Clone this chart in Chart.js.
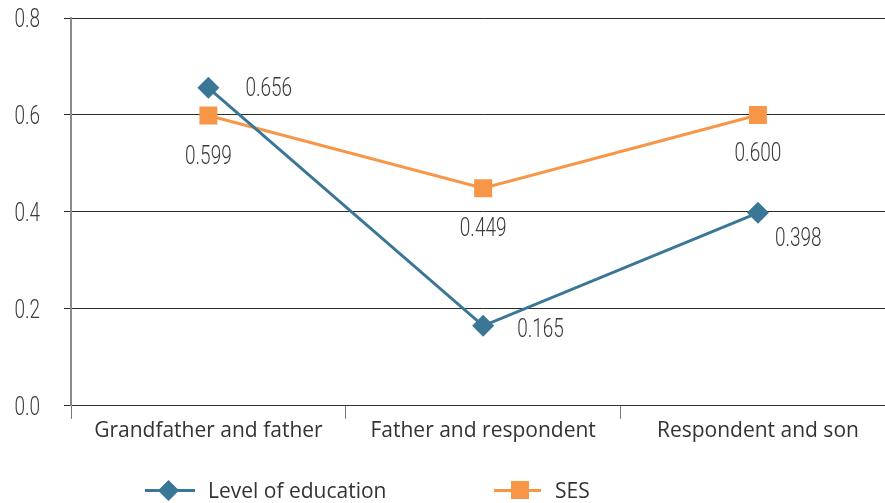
<!DOCTYPE html>
<html>
<head>
<meta charset="utf-8">
<script src="https://cdn.jsdelivr.net/npm/chart.js@4.4.1/dist/chart.umd.min.js"></script>
<style>
  html, body { margin: 0; padding: 0; background: #fff; overflow: hidden; width: 885px; height: 503px; }
  #wrap { position: relative; width: 908px; height: 503px; }
  #legend { position: absolute; left: 0; top: 0; width: 885px; height: 503px; pointer-events: none;
            font-family: "Open Sans", sans-serif; font-size: 21px; color: #333; }
  .item { position: absolute; top: 477px; height: 26px; display: flex; align-items: center; }
  .sym { position: relative; height: 24px; }
  .sym .ln { position: absolute; left: 0; right: 0; top: 10.5px; height: 3px; }
  .sym .mk { position: absolute; }
</style>
</head>
<body>
<div id="wrap">
  <canvas id="c" width="908" height="503"></canvas>
  <div id="legend"></div>
</div>
<script>
const categories = ["Grandfather and father", "Father and respondent", "Respondent and son"];
const educationValues = [0.656, 0.165, 0.398];
const sesValues = [0.599, 0.449, 0.600];
const yTicks = [0, 0.2, 0.4, 0.6, 0.8];
const seriesNames = ["Level of education", "SES"];

const BLUE = "#3A7797";
const ORANGE = "#F79646";
const NUM_FONT = 'Roboto, sans-serif';
const TXT_FONT = '"Open Sans", sans-serif';
const NUM_SIZE = 25;
const NUM_SX = 0.76;

// label placement (style only): [dx, dy, align]
const labelPlacement = [
  [[37, 2, "left"], [34, 5, "left"], [17, 27, "left"]],
  [[0, 42, "center"], [0, 42, "center"], [0, 40, "center"]]
];

function drawNarrow(ctx, text, x, y, align) {
  ctx.save();
  ctx.font = '300 ' + NUM_SIZE + 'px ' + NUM_FONT;
  ctx.fillStyle = "#3a3a3a";
  ctx.textBaseline = "middle";
  ctx.textAlign = align;
  ctx.translate(x, y);
  ctx.scale(NUM_SX, 1);
  ctx.fillText(text, 0, 0);
  ctx.restore();
}

const numberPlugin = {
  id: "numbers",
  afterDatasetsDraw(chart) {
    const ctx = chart.ctx;
    chart.data.datasets.forEach((ds, di) => {
      const meta = chart.getDatasetMeta(di);
      meta.data.forEach((pt, i) => {
        const p = labelPlacement[di][i];
        drawNarrow(ctx, ds.data[i].toFixed(3), pt.x + p[0], pt.y + p[1], p[2]);
      });
    });
    // y-axis tick labels, placed by the y scale
    const ys = chart.scales.y;
    yTicks.forEach(v => {
      drawNarrow(ctx, v.toFixed(1), ys.right - 31, ys.getPixelForValue(v) + 3, "right");
    });
  }
};

new Chart(document.getElementById("c"), {
  type: "line",
  data: {
    labels: categories,
    datasets: [
      {
        label: seriesNames[0], data: educationValues,
        borderColor: BLUE, backgroundColor: BLUE, borderWidth: 3,
        pointStyle: "rectRot", pointRadius: 11, pointHoverRadius: 11,
        pointBorderWidth: 0, pointBackgroundColor: BLUE, tension: 0
      },
      {
        label: seriesNames[1], data: sesValues,
        borderColor: ORANGE, backgroundColor: ORANGE, borderWidth: 3,
        pointStyle: "rect", pointRadius: 12.7, pointHoverRadius: 12.7,
        pointBorderWidth: 0, pointBackgroundColor: ORANGE, tension: 0
      }
    ]
  },
  options: {
    responsive: false,
    animation: false,
    devicePixelRatio: 1,
    layout: { padding: { left: 0, right: 4, top: 18, bottom: 59 } },
    plugins: { legend: { display: false }, tooltip: { enabled: false } },
    scales: {
      x: {
        offset: true,
        grid: { offset: true, drawOnChartArea: false, drawTicks: true, tickLength: 13, color: "#777", lineWidth: 1 },
        border: { display: true, color: "#333", width: 1 },
        ticks: { font: { family: TXT_FONT, size: 21 }, color: "#333", padding: 0, maxRotation: 0 }
      },
      y: {
        min: 0, max: 0.8,
        afterBuildTicks(axis) { axis.ticks = yTicks.map(v => ({ value: v })); },
        afterFit(axis) { axis.width = 71; axis.paddingTop = 0; axis.paddingBottom = 0; },
        grid: { color: "#2b2b2b", lineWidth: 1, tickLength: 7 },
        border: { display: true, color: "#8a8a8a", width: 2 },
        ticks: { display: false }
      }
    }
  },
  plugins: [numberPlugin]
});

// HTML legend
const legend = document.getElementById("legend");
const legendDefs = [
  { name: seriesNames[0], color: BLUE, shape: "diamond", left: 145, w: 50, gap: 13, mkLeft: 15.5 },
  { name: seriesNames[1], color: ORANGE, shape: "square", left: 494, w: 47, gap: 14, mkLeft: 17 }
];
legendDefs.forEach(d => {
  const item = document.createElement("div");
  item.className = "item";
  item.style.left = d.left + "px";
  const sym = document.createElement("div");
  sym.className = "sym";
  sym.style.width = d.w + "px";
  sym.style.marginRight = d.gap + "px";
  const ln = document.createElement("div");
  ln.className = "ln"; ln.style.background = d.color;
  const mk = document.createElement("div");
  mk.className = "mk"; mk.style.background = d.color;
  mk.style.left = d.mkLeft + "px";
  if (d.shape === "diamond") {
    mk.style.width = "15px"; mk.style.height = "15px";
    mk.style.top = "4.5px";
    mk.style.transform = "rotate(45deg)";
  } else {
    mk.style.width = "18px"; mk.style.height = "18px";
    mk.style.top = "3px";
  }
  sym.appendChild(ln); sym.appendChild(mk);
  const txt = document.createElement("span");
  txt.textContent = d.name;
  item.appendChild(sym); item.appendChild(txt);
  legend.appendChild(item);
});
</script>
</body>
</html>
